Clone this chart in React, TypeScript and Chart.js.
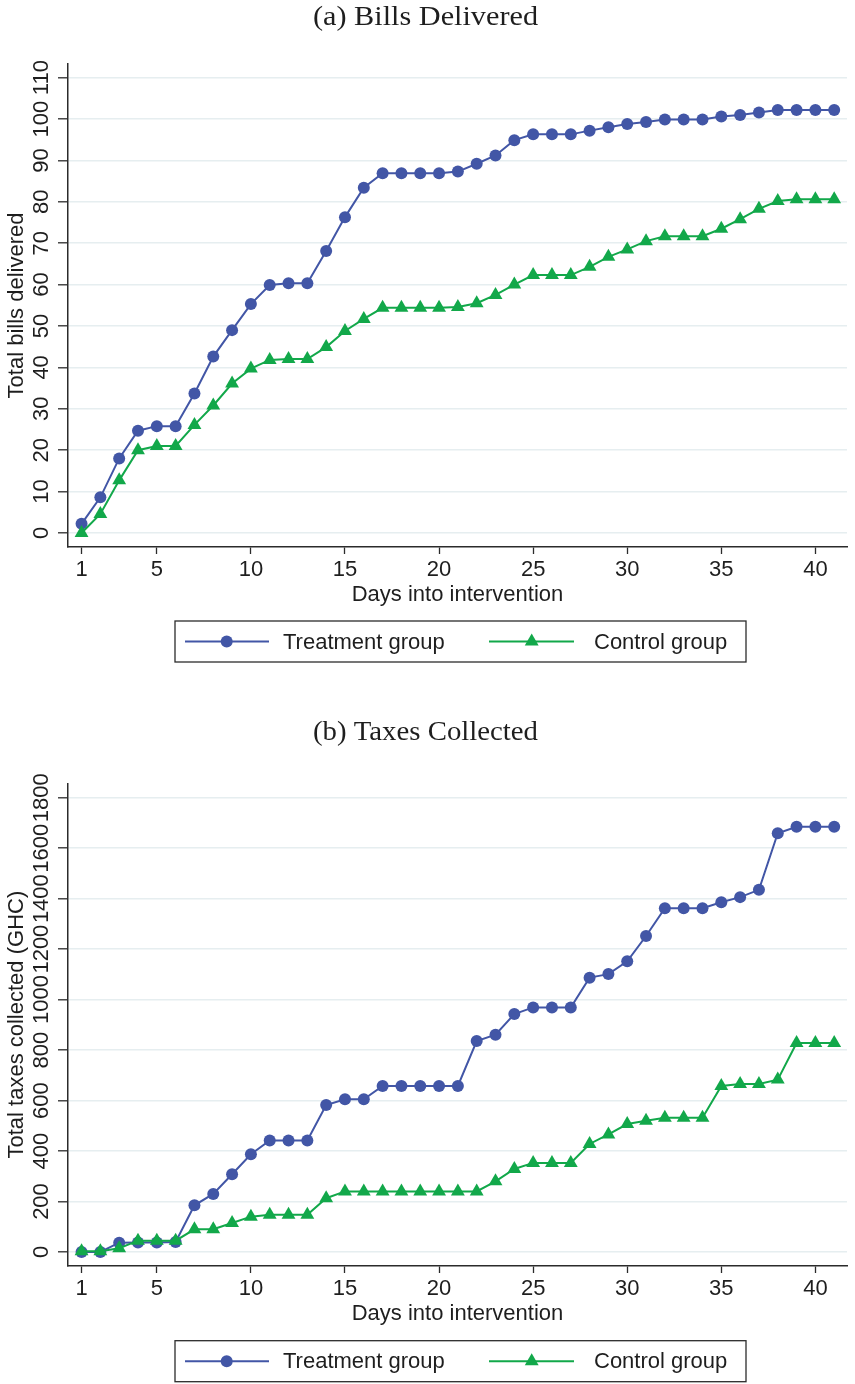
import React, { useEffect, useRef } from "react";
import { Chart, registerables } from "chart.js";

Chart.register(...registerables);

// ---- data -------------------------------------------------------------
const days = [
  1, 2, 3, 4, 5, 6, 7, 8, 9, 10, 11, 12, 13, 14, 15, 16, 17, 18, 19, 20, 21,
  22, 23, 24, 25, 26, 27, 28, 29, 30, 31, 32, 33, 34, 35, 36, 37, 38, 39, 40, 41,
];
const dayTicks = [1, 5, 10, 15, 20, 25, 30, 35, 40];
const billsTicks = [0, 10, 20, 30, 40, 50, 60, 70, 80, 90, 100, 110];
const taxesTicks = [0, 200, 400, 600, 800, 1000, 1200, 1400, 1600, 1800];

const billsTreatment = [
  2.2, 8.6, 18.0, 24.7, 25.8, 25.8, 33.7, 42.6, 49.0, 55.3, 59.9, 60.3, 60.3,
  68.1, 76.3, 83.4, 86.9, 86.9, 86.9, 86.9, 87.3, 89.2, 91.2, 94.9, 96.3, 96.3,
  96.3, 97.2, 98.0, 98.8, 99.3, 99.9, 99.9, 99.9, 100.6, 101.0, 101.6, 102.2,
  102.2, 102.2, 102.2,
];
const billsControl = [
  0, 4.6, 12.7, 20.0, 21.0, 21.0, 26.1, 30.8, 36.1, 39.7, 41.8, 42.0, 42.0,
  44.9, 48.8, 51.7, 54.4, 54.4, 54.4, 54.4, 54.6, 55.5, 57.5, 60.0, 62.3, 62.3,
  62.3, 64.3, 66.7, 68.5, 70.5, 71.7, 71.7, 71.7, 73.5, 75.8, 78.3, 80.2, 80.6,
  80.6, 80.6,
];
const taxesTreatment = [
  0, 0, 37, 38, 38, 40, 185, 230, 308, 387, 442, 442, 442, 582, 605, 605, 658,
  658, 658, 658, 658, 836, 861, 943, 969, 969, 969, 1087, 1101, 1152, 1252,
  1362, 1362, 1362, 1386, 1406, 1435, 1659, 1685, 1685, 1685,
];
const taxesControl = [
  3, 3, 15, 45, 45, 45, 90, 90, 115, 140, 148, 148, 148, 213, 240, 240, 240,
  240, 240, 240, 240, 240, 280, 329, 353, 353, 353, 428, 466, 507, 520, 532,
  532, 532, 658, 666, 666, 683, 828, 828, 828,
];

const groupNames = ["Treatment group", "Control group"];

// ---- styling ----------------------------------------------------------
const TREAT = "rgb(66, 86, 166)";
const CONTROL = "rgb(18, 168, 74)";
const INK = "#1e1e1e";
const AXIS = "#2b2b2b";
const GRID = "#e6eef0";
const SANS = '"Liberation Sans", Arial, Helvetica, sans-serif';
const SERIF = '"Liberation Serif", "Times New Roman", serif';

const W = 855;
const H = 692;

function drawMarker(ctx: CanvasRenderingContext2D, style: string, x: number, y: number, r: number) {
  ctx.beginPath();
  if (style === "triangle") {
    let rad = 0;
    ctx.moveTo(x + Math.sin(rad) * r, y - Math.cos(rad) * r);
    rad += (2 * Math.PI) / 3;
    ctx.lineTo(x + Math.sin(rad) * r, y - Math.cos(rad) * r);
    rad += (2 * Math.PI) / 3;
    ctx.lineTo(x + Math.sin(rad) * r, y - Math.cos(rad) * r);
    ctx.closePath();
  } else {
    ctx.arc(x, y, r, 0, Math.PI * 2);
  }
  ctx.fill();
}

// Heading, rotated y labels, y title and boxed legend
const panelDecor = {
  id: "panelDecor",
  afterDraw(chart: any, _args: any, opts: any) {
    const { ctx, chartArea, scales } = chart;
    ctx.save();
    ctx.fillStyle = INK;

    // heading
    ctx.font = `27px ${SERIF}`;
    ctx.textAlign = "left";
    ctx.textBaseline = "alphabetic";
    const w = ctx.measureText(opts.heading).width;
    ctx.save();
    ctx.translate(opts.headingX - opts.headingWidth / 2, opts.headingY);
    ctx.scale(opts.headingWidth / w, 1);
    ctx.fillText(opts.heading, 0, 0);
    ctx.restore();

    // y tick labels, reading upward
    ctx.font = `22px ${SANS}`;
    ctx.textAlign = "center";
    for (const v of opts.yTicks) {
      const py = scales.y.getPixelForValue(v);
      ctx.save();
      ctx.translate(opts.tickBaseX, py);
      ctx.rotate(-Math.PI / 2);
      ctx.fillText(String(v), 0, 0);
      ctx.restore();
    }

    // y title
    ctx.save();
    ctx.translate(opts.titleBaseX, (chartArea.top + chartArea.bottom) / 2);
    ctx.rotate(-Math.PI / 2);
    ctx.fillText(opts.yTitle, 0, 0);
    ctx.restore();

    // legend box
    const lg = opts.legend;
    ctx.strokeStyle = AXIS;
    ctx.lineWidth = 1.3;
    ctx.strokeRect(lg.left, lg.top, lg.right - lg.left, lg.bottom - lg.top);
    const cy = (lg.top + lg.bottom) / 2;
    ctx.textAlign = "left";
    ctx.textBaseline = "middle";
    lg.items.forEach((it: any, i: number) => {
      const ds = chart.data.datasets[i];
      ctx.strokeStyle = ds.borderColor;
      ctx.fillStyle = ds.borderColor;
      ctx.lineWidth = 2;
      ctx.beginPath();
      ctx.moveTo(lg.left + it.lineFrom, cy);
      ctx.lineTo(lg.left + it.lineTo, cy);
      ctx.stroke();
      drawMarker(ctx, ds.pointStyle, lg.left + it.marker, cy, ds.pointRadius);
      ctx.fillStyle = INK;
      ctx.fillText(ds.label, lg.left + it.text, cy + 1);
    });
    ctx.restore();
  },
};

function makeDataset(label: string, values: number[], color: string, style: string, radius: number, order: number) {
  return {
    label,
    data: days.map((d, i) => ({ x: d, y: values[i] })),
    borderColor: color,
    backgroundColor: color,
    pointBackgroundColor: color,
    pointBorderColor: color,
    pointBorderWidth: 0,
    pointRadius: radius,
    pointHoverRadius: radius,
    pointStyle: style,
    borderWidth: 2,
    tension: 0,
    order,
  };
}

type PanelProps = {
  heading: string;
  headingY: number;
  yTitle: string;
  treatment: number[];
  control: number[];
  yTicks: number[];
  yMin: number;
  yMax: number;
  padTop: number;
  padBottom: number;
  legendTop: number;
};

function Panel(p: PanelProps) {
  const ref = useRef<HTMLCanvasElement | null>(null);

  useEffect(() => {
    if (!ref.current) return;
    const chart = new Chart(ref.current, {
      type: "line",
      data: {
        datasets: [
          makeDataset(groupNames[0], p.treatment, TREAT, "circle", 6, 1),
          makeDataset(groupNames[1], p.control, CONTROL, "triangle", 8, 0),
        ],
      },
      options: {
        responsive: false,
        animation: false,
        devicePixelRatio: 1,
        events: [],
        layout: { padding: { top: p.padTop, bottom: p.padBottom, left: 0, right: 2 } },
        scales: {
          x: {
            type: "linear",
            min: 0.28,
            max: 41.68,
            afterBuildTicks: (s: any) => {
              s.ticks = dayTicks.map((v) => ({ value: v }));
            },
            afterFit: (s: any) => {
              s.height = 61;
            },
            grid: {
              drawOnChartArea: false,
              drawTicks: true,
              tickLength: 7,
              tickColor: AXIS,
              tickWidth: 1.3,
            },
            border: { display: true, color: AXIS, width: 1.5 },
            ticks: {
              autoSkip: false,
              maxRotation: 0,
              minRotation: 0,
              padding: 3,
              color: INK,
              font: { family: SANS, size: 22 },
              callback: (v: any) => String(v),
            },
            title: {
              display: true,
              text: "Days into intervention",
              color: INK,
              font: { family: SANS, size: 22 },
              padding: { top: 0, bottom: 0 },
            },
          },
          y: {
            type: "linear",
            min: p.yMin,
            max: p.yMax,
            afterBuildTicks: (s: any) => {
              s.ticks = p.yTicks.map((v) => ({ value: v }));
            },
            afterFit: (s: any) => {
              s.width = 68;
            },
            grid: {
              color: GRID,
              lineWidth: 1.6,
              drawTicks: true,
              tickLength: 10,
              tickColor: AXIS,
              tickWidth: 1.3,
            },
            border: { display: true, color: AXIS, width: 1.5 },
            ticks: { display: false },
          },
        },
        plugins: {
          legend: { display: false },
          tooltip: { enabled: false },
          panelDecor: {
            heading: p.heading,
            headingX: 425.5,
            headingY: p.headingY,
            headingWidth: 225,
            yTicks: p.yTicks,
            tickBaseX: 48,
            titleBaseX: 23,
            yTitle: p.yTitle,
            legend: {
              left: 175,
              right: 746,
              top: p.legendTop,
              bottom: p.legendTop + 41,
              items: [
                { lineFrom: 10, lineTo: 94, marker: 51.7, text: 108 },
                { lineFrom: 314, lineTo: 399, marker: 356.7, text: 419 },
              ],
            },
          },
        } as any,
      },
      plugins: [panelDecor],
    } as any);
    return () => chart.destroy();
  }, []);

  return <canvas ref={ref} width={W} height={H} style={{ display: "block", width: W, height: H }} />;
}

export default function App() {
  return (
    <div style={{ position: "absolute", left: 0, top: 0, width: W, height: 2 * H, background: "#fff" }}>
      <Panel
        heading="(a) Bills Delivered"
        headingY={25}
        yTitle="Total bills delivered"
        treatment={billsTreatment}
        control={billsControl}
        yTicks={billsTicks}
        yMin={-3.4}
        yMax={113.3}
        padTop={64}
        padBottom={84}
        legendTop={621}
      />
      <Panel
        heading="(b) Taxes Collected"
        headingY={48}
        yTitle="Total taxes collected (GHC)"
        treatment={taxesTreatment}
        control={taxesControl}
        yTicks={taxesTicks}
        yMin={-55.5}
        yMax={1857}
        padTop={91.3}
        padBottom={57}
        legendTop={648.7}
      />
    </div>
  );
}
